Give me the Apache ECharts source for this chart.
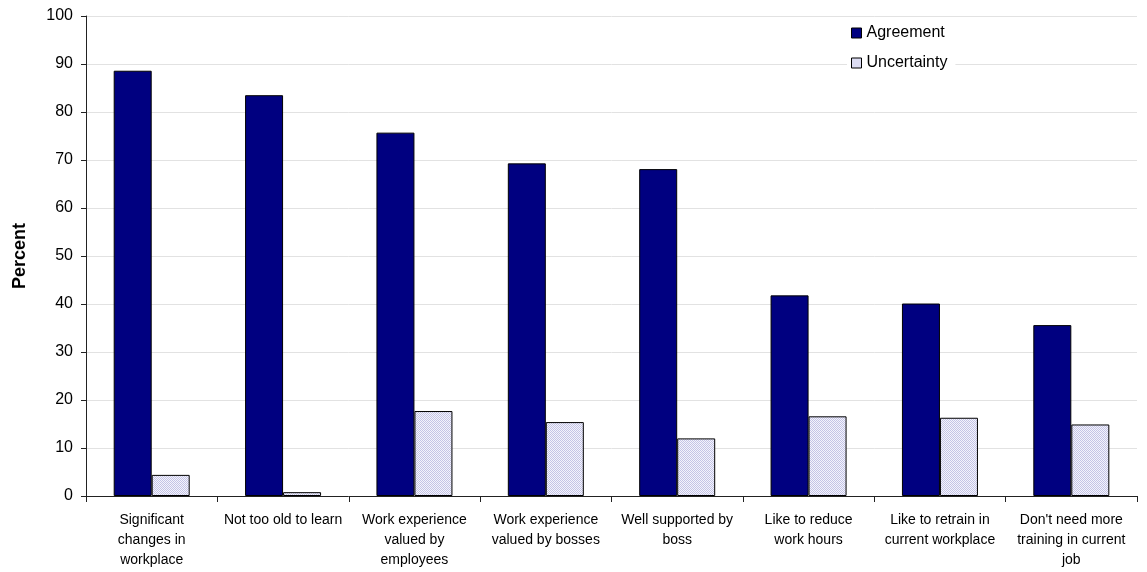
<!DOCTYPE html>
<html>
<head>
<meta charset="utf-8">
<script src="https://cdn.jsdelivr.net/npm/echarts@6/dist/echarts.min.js"></script>
<style>html,body{margin:0;padding:0;background:#fff}#c{width:1147px;height:572px}</style>
</head>
<body>
<div id="c"></div>
<script>
var categories = [
  "Significant\nchanges in\nworkplace",
  "Not too old to learn",
  "Work experience\nvalued by\nemployees",
  "Work experience\nvalued by bosses",
  "Well supported by\nboss",
  "Like to reduce\nwork hours",
  "Like to retrain in\ncurrent workplace",
  "Don't need more\ntraining in current\njob"
];
var agreement = [88.6, 83.5, 75.7, 69.3, 68.1, 41.8, 40.1, 35.6];
var uncertainty = [4.4, 0.8, 17.7, 15.4, 12.0, 16.6, 16.3, 14.9];
var yTicks = [0, 10, 20, 30, 40, 50, 60, 70, 80, 90, 100];

function makePattern() {
  var cv = document.createElement('canvas');
  cv.width = 2; cv.height = 2;
  var ctx = cv.getContext('2d');
  ctx.fillStyle = '#f4f4fc';
  ctx.fillRect(0, 0, 2, 2);
  ctx.fillStyle = '#c4c4e6';
  ctx.fillRect(0, 0, 1, 1); ctx.fillRect(1, 1, 1, 1);
  return {image: cv, repeat: 'repeat'};
}
var pat = makePattern();

var chart = echarts.init(document.getElementById('c'), null, {renderer: 'canvas'});
var font = 'Liberation Sans, Arial, sans-serif';
chart.setOption({
  animation: false,
  backgroundColor: '#fff',
  textStyle: {fontFamily: font},
  grid: {left: 86, right: 10, top: 16, bottom: 76, containLabel: false},
  legend: {
    left: 847, top: 25, orient: 'vertical', itemGap: 14,
    itemWidth: 10, itemHeight: 10, itemTextGap: 6, padding: [0, 8, 0, 4],
    backgroundColor: '#fff',
    textStyle: {fontSize: 16, color: '#000', fontFamily: font},
    data: [
      {name: 'Agreement', icon: 'rect', itemStyle: {color: '#000080', borderColor: '#000', borderWidth: 1}},
      {name: 'Uncertainty', icon: 'rect', itemStyle: {color: '#dcdcf2', borderColor: '#000', borderWidth: 1}}
    ]
  },
  xAxis: {
    type: 'category', data: categories,
    axisLine: {lineStyle: {color: '#222', width: 1}},
    axisTick: {show: true, alignWithLabel: false, length: 6, lineStyle: {color: '#222'}},
    axisLabel: {interval: 0, color: '#000', fontSize: 14, lineHeight: 20, margin: 14, fontFamily: font}
  },
  yAxis: {
    type: 'value', min: yTicks[0], max: yTicks[yTicks.length - 1], interval: 10,
    name: 'Percent', nameLocation: 'middle', nameGap: 57,
    nameTextStyle: {fontSize: 18, fontWeight: 'bold', color: '#000', fontFamily: font},
    axisLine: {show: true, lineStyle: {color: '#222', width: 1}},
    axisTick: {show: true, length: 5, lineStyle: {color: '#222'}},
    axisLabel: {color: '#000', fontSize: 16, margin: 13, fontFamily: font},
    splitLine: {lineStyle: {color: '#e2e2e2', width: 1}}
  },
  series: [
    {name: 'Agreement', type: 'bar', data: agreement, barWidth: 38, barGap: '0%',
      itemStyle: {color: '#000080', borderColor: '#000', borderWidth: 1}},
    {name: 'Uncertainty', type: 'bar', data: uncertainty, barWidth: 38, barGap: '0%',
      itemStyle: {color: pat, borderColor: '#000', borderWidth: 1}}
  ]
});
</script>
</body>
</html>
